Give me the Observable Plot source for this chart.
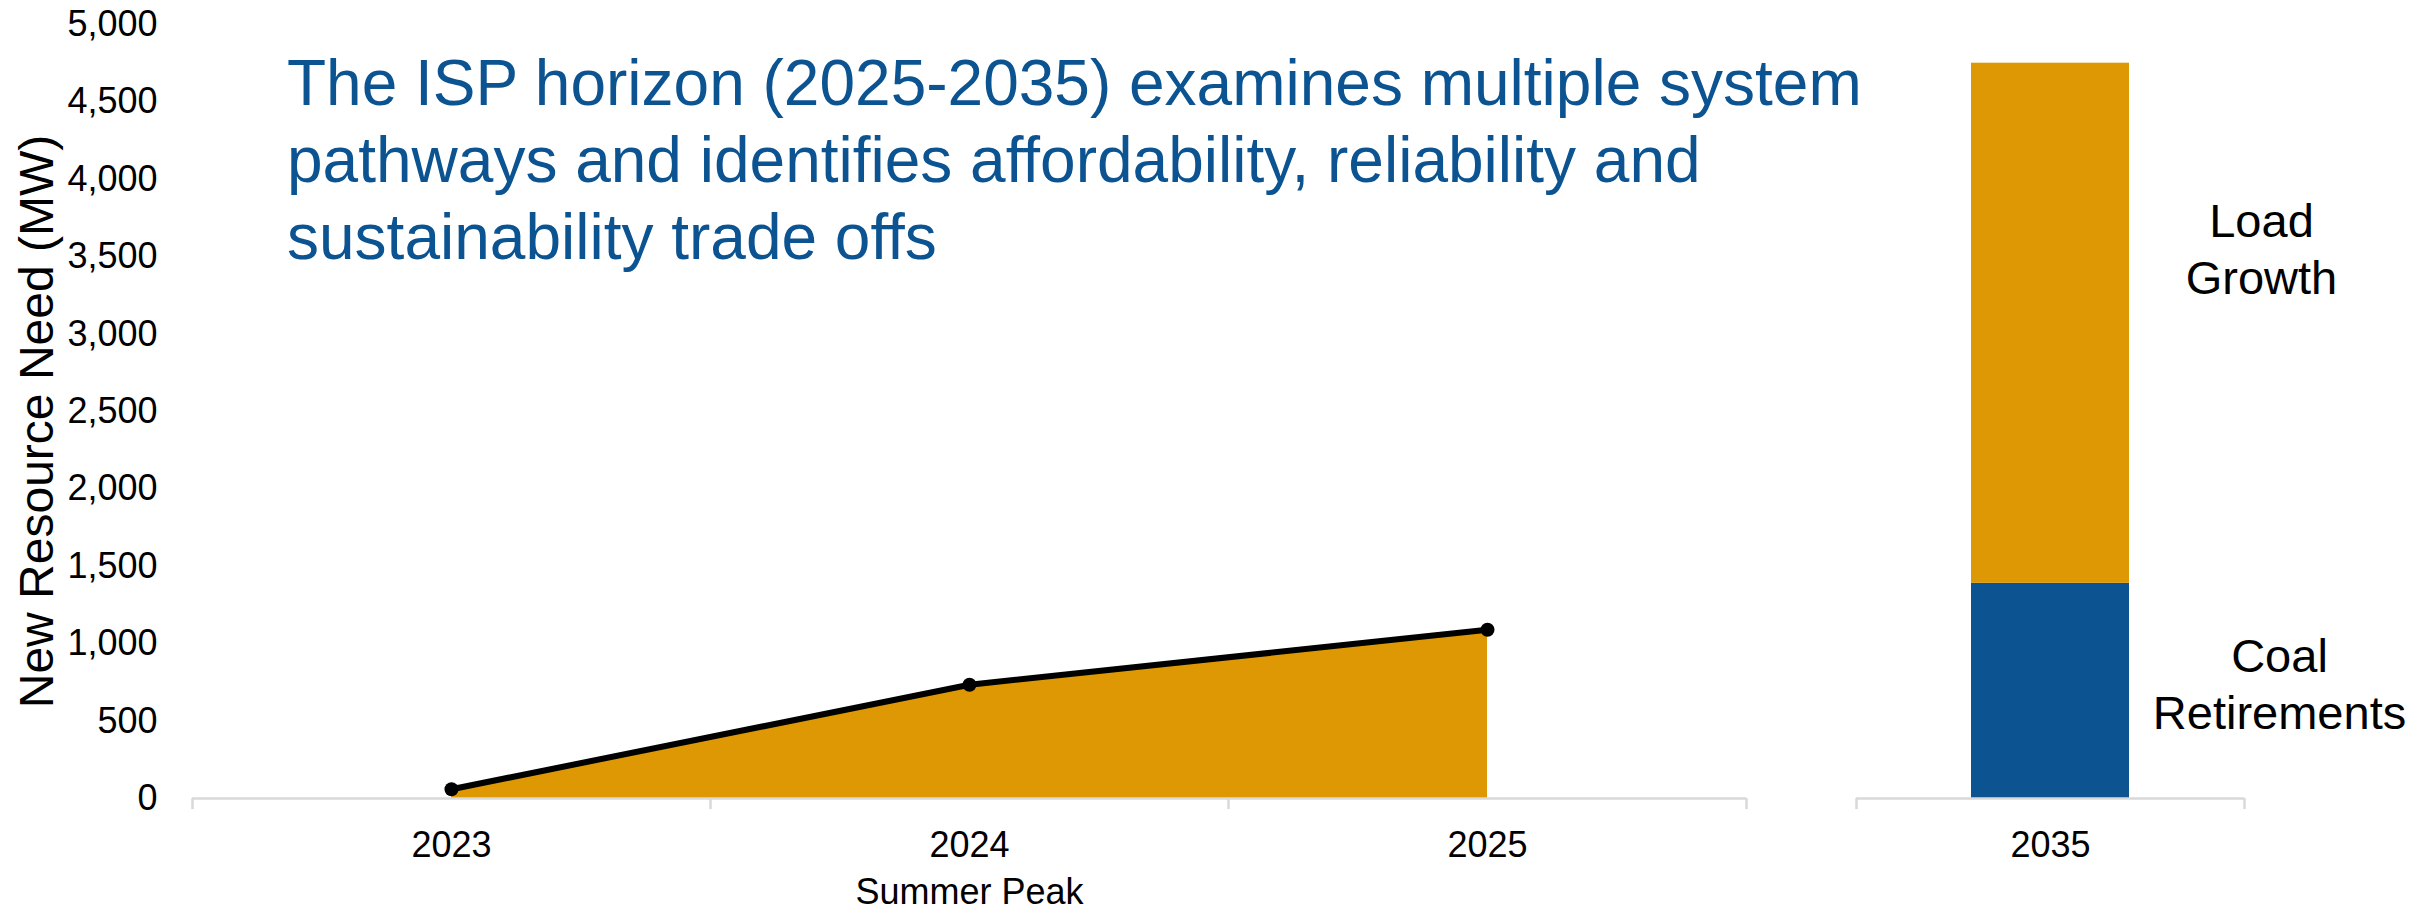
<!DOCTYPE html>
<html>
<head>
<meta charset="utf-8">
<script src="https://cdn.jsdelivr.net/npm/d3@7"></script>
<script src="https://cdn.jsdelivr.net/npm/@observablehq/plot@0.6"></script>
<style>
  body { margin: 0; background: #fff; }
  #wrap { position: relative; width: 2417px; height: 913px; overflow: hidden; font-family: "Liberation Sans", Arial, sans-serif; }
  #left, #right { position: absolute; top: 0; }
  #left { left: 0; }
  #right { left: 1790px; }
  #title { position: absolute; left: 287px; top: 45px; font-size: 64px; line-height: 77px; color: #0b5391; white-space: nowrap; }
</style>
</head>
<body>
<div id="wrap">
  <div id="left"></div>
  <div id="right"></div>
  <div id="title"></div>
</div>
<script>
// ---- data ----
const years = [2023, 2024, 2025];
const summerPeakNeed = [60, 735, 1090];           // MW, summer peak new resource need
const barYear = 2035;
const barSeries = ["Coal Retirements", "Load Growth"];
const barValues = [1390, 3360];                   // MW, stacked components for 2035
const yTicks = [0, 500, 1000, 1500, 2000, 2500, 3000, 3500, 4000, 4500, 5000];
const yLabel = "New Resource Need (MW)";
const xLabel = "Summer Peak";
const titleLines = [
  "The ISP horizon (2025-2035) examines multiple system",
  "pathways and identifies affordability, reliability and",
  "sustainability trade offs"
];

// ---- styles ----
const ORANGE = "#dd9803";
const BLUE = "#0b5391";
const GRAY = "#d9d9d9";
const FONT = "'Liberation Sans', Arial, sans-serif";
const baseStyle = { fontFamily: FONT, fontSize: "36px", color: "black", background: "transparent", overflow: "visible" };
const fmtComma = d3.format(",");

document.getElementById("title").innerHTML = titleLines.join("<br>");

// ---- left panel ----
const lineData = years.map((year, i) => ({ year, value: summerPeakNeed[i] }));
const bounds = [...years.map(y => y - 0.5), years[years.length - 1] + 0.5];

const left = Plot.plot({
  width: 1790, height: 913,
  marginLeft: 192, marginRight: 44, marginTop: 24, marginBottom: 115,
  style: baseStyle,
  x: { type: "linear", domain: [years[0] - 0.5, years[years.length - 1] + 0.5] },
  y: { domain: [0, 5000] },
  marks: [
    Plot.areaY(lineData, { x: "year", y: "value", fill: ORANGE }),
    Plot.ruleY([0], { stroke: GRAY, strokeWidth: 2.5 }),
    Plot.axisX({ ticks: bounds, tickSize: 11, stroke: GRAY, strokeWidth: 2.5, tickFormat: () => "", label: null }),
    Plot.axisX({ ticks: years, tickSize: 0, tickPadding: 33, tickFormat: d => String(d), fontSize: 36, fill: "black", label: null }),
    Plot.axisY({ ticks: yTicks, tickSize: 0, tickPadding: 35, tickFormat: d => fmtComma(d), fontSize: 36, fill: "black", label: null }),
    Plot.lineY(lineData, { x: "year", y: "value", stroke: "black", strokeWidth: 6 }),
    Plot.dot(lineData, { x: "year", y: "value", r: 7, fill: "black" }),
    Plot.text([yLabel], { text: d => d, frameAnchor: "left", textAnchor: "middle", rotate: -90, dx: -155, dy: 10, fontSize: 48, fill: "black" }),
    Plot.text([xLabel], { text: d => d, frameAnchor: "bottom", textAnchor: "middle", lineAnchor: "top", dy: 80, fontSize: 36, fill: "black" })
  ]
});
document.getElementById("left").appendChild(left);

// ---- right panel ----
let acc = 0;
const stacked = barSeries.map((series, i) => {
  const y1 = acc; acc += barValues[i];
  return { year: barYear, series, y1, y2: acc };
});

const right = Plot.plot({
  width: 627, height: 913,
  marginLeft: 66, marginRight: 173, marginTop: 24, marginBottom: 115,
  style: baseStyle,
  x: { type: "linear", domain: [barYear - 0.5, barYear + 0.5] },
  y: { domain: [0, 5000], axis: null },
  color: { domain: barSeries, range: [BLUE, ORANGE] },
  marks: [
    Plot.rectY(stacked, { x1: d => d.year - 0.5, x2: d => d.year + 0.5, y1: "y1", y2: "y2", fill: "series", insetLeft: 115, insetRight: 115 }),
    Plot.ruleY([0], { stroke: GRAY, strokeWidth: 2.5 }),
    Plot.axisX({ ticks: [barYear - 0.5, barYear + 0.5], tickSize: 11, stroke: GRAY, strokeWidth: 2.5, tickFormat: () => "", label: null }),
    Plot.axisX({ ticks: [barYear], tickSize: 0, tickPadding: 33, tickFormat: d => String(d), fontSize: 36, fill: "black", label: null }),
    Plot.text(stacked.filter(d => d.series === "Load Growth"), {
      x: "year", y: d => (d.y1 + d.y2) / 2, text: d => d.series.replace(" ", "\n"),
      dx: 211, dy: -76, fontSize: 47, lineHeight: 1.22, fill: "black"
    }),
    Plot.text(stacked.filter(d => d.series === "Coal Retirements"), {
      x: "year", y: d => (d.y1 + d.y2) / 2, text: d => d.series.replace(" ", "\n"),
      dx: 229, dy: -9, fontSize: 47, lineHeight: 1.22, fill: "black"
    })
  ]
});
document.getElementById("right").appendChild(right);
</script>
</body>
</html>
